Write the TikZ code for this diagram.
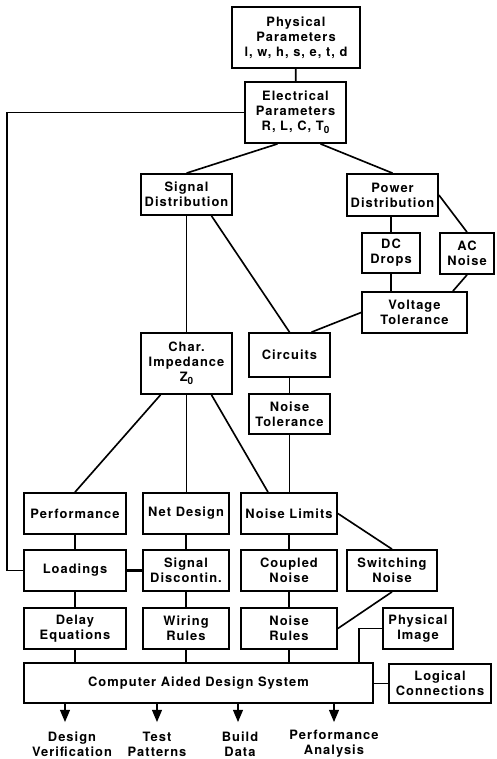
\documentclass[tikz,border=0pt]{standalone}
\usepackage{fontspec}
\usepackage{tikz}
\usetikzlibrary{arrows,calc}
\newfontfamily\lbl{TeX Gyre Heros}[LetterSpace=8]
\newcommand\nought{\raisebox{-0.45ex}{\fontsize{8.5}{8.5}\selectfont 0}}

\begin{document}
\begin{tikzpicture}[x=0.03cm,y=-0.03cm,>=triangle 45,
	box/.style 2 args={draw,line width=1.5pt,minimum width=#1*0.03cm,minimum height=#2*0.03cm,
		inner sep=0pt,align=center,font=\lbl\bfseries\fontsize{11}{12.8}\selectfont},
	outl/.style={inner sep=0pt,align=center,font=\lbl\bfseries\fontsize{11}{12.8}\selectfont},
	lnk/.style={line width=1.4pt}]
	\useasboundingbox (0,0) rectangle (496,759);
	
	% top of the tree
	\node[box={128}{61}] (phys) at (296,37.5) {Physical\\Parameters\\l, w, h, s, e, t, d};
	\node[box={101}{61}] (elec) at (295.5,112.5) {Electrical\\Parameters\\R, L, C, T\nought};
	\node[box={91}{41}] (sig) at (186.5,194.5) {Signal\\Distribution};
	\node[box={91}{42}] (pow) at (392.5,195) {Power\\Distribution};
	\node[box={58}{40}] (dc) at (391,253) {DC\\Drops};
	\node[box={54}{41}] (ac) at (467,253.5) {AC\\Noise};
	\node[box={105}{41}] (volt) at (414.5,312.5) {Voltage\\Tolerance};
	\node[box={81}{44}] (circ) at (289.5,355) {Circuits};
	\node[box={91}{61}] (char) at (186.5,363.5) {Char.\\Impedance\\Z\nought};
	\node[box={81}{40}] (ntol) at (289.5,414) {Noise\\Tolerance};
	
	% rows
	\node[box={102}{41}] (perf) at (75,513.5) {Performance};
	\node[box={86}{41}] (net) at (186,513.5) {Net Design};
	\node[box={96}{41}] (nlim) at (289,513.5) {Noise Limits};
	\node[box={102}{41}] (load) at (75,570.5) {Loadings};
	\node[box={86}{41}] (sdis) at (186,570.5) {Signal\\Discontin.};
	\node[box={96}{41}] (coup) at (289,570.5) {Coupled\\Noise};
	\node[box={90}{41}] (swit) at (392,570.5) {Switching\\Noise};
	\node[box={102}{41}] (delay) at (75,628.5) {Delay\\Equations};
	\node[box={86}{41}] (wire) at (186,628.5) {Wiring\\Rules};
	\node[box={96}{41}] (nrul) at (289,628.5) {Noise\\Rules};
	\node[box={70}{41}] (pimg) at (418,628.5) {Physical\\Image};
	\node[box={349}{40}] (cad) at (198.5,683) {Computer Aided Design System};
	\node[box={102}{39}] (logc) at (440,683.5) {Logical\\Connections};
	
	% outputs
	\node[outl] (dv) at (72,744) {Design\\Verification};
	\node[outl] (tp) at (157,744) {Test\\Patterns};
	\node[outl] (bd) at (240,744) {Build\\Data};
	\node[outl] (pa) at (334,744) {Performance\\Analysis};
	
	\coordinate (fb) at (7,0);
	\begin{scope}[lnk]
		\draw (phys) -- (elec);
		\draw (elec.west) -- (elec.west -| fb) |- (load.west);
		\draw ($(elec.south)+(-18,0)$) -- (sig.north);
		\draw ($(elec.south)+(25,0)$) -- (pow.north);
		\draw (pow.east) -- (ac.north);
		\draw (dc.north) -- (dc.north |- pow.south);
		\draw (dc.south) -- (dc.south |- volt.north);
		\draw (ac.south) -- ($(volt.north east)+(-15,0)$);
		\draw (volt.west) -- ($(circ.north)+(22,0)$);
		\draw ($(sig.south)+(25,0)$) -- (circ.north);
		\draw (sig) -- (char);
		\draw (circ) -- (ntol);
		\draw ($(char.south)+(-26,0)$) -- (perf.north);
		\draw (char.south) -- (char.south |- net.north);
		\draw ($(char.south)+(25,0)$) -- ($(nlim.north)+(-21,0)$);
		\draw (ntol.south) -- (ntol.south |- nlim.north);
		\draw (nlim.east) -- (swit.north);
		\draw (perf) -- (load);
		\draw (net) -- (sdis);
		\draw (nlim) -- (coup);
		\draw[line width=1.8pt] (load) -- (sdis);
		\draw (load) -- (delay);
		\draw (sdis) -- (wire);
		\draw (coup) -- (nrul);
		\draw (swit.south) -- (nrul.east);
		\draw (delay.south) -- (delay.south |- cad.north);
		\draw (wire.south) -- (wire.south |- cad.north);
		\draw (nrul.south) -- (nrul.south |- cad.north);
		\draw (pimg.west) -| ($(cad.north east)+(-15,0)$);
		\draw (cad.east |- logc.west) -- (logc.west);
	\end{scope}
	
	\foreach \n/\x in {dv/65,tp/157,bd/238,pa/334}{
		\coordinate (\n tip) at (\x,722);
		\draw[->,lnk] (cad.south -| \n tip) -- (\n tip);
	}
\end{tikzpicture}
\end{document}
